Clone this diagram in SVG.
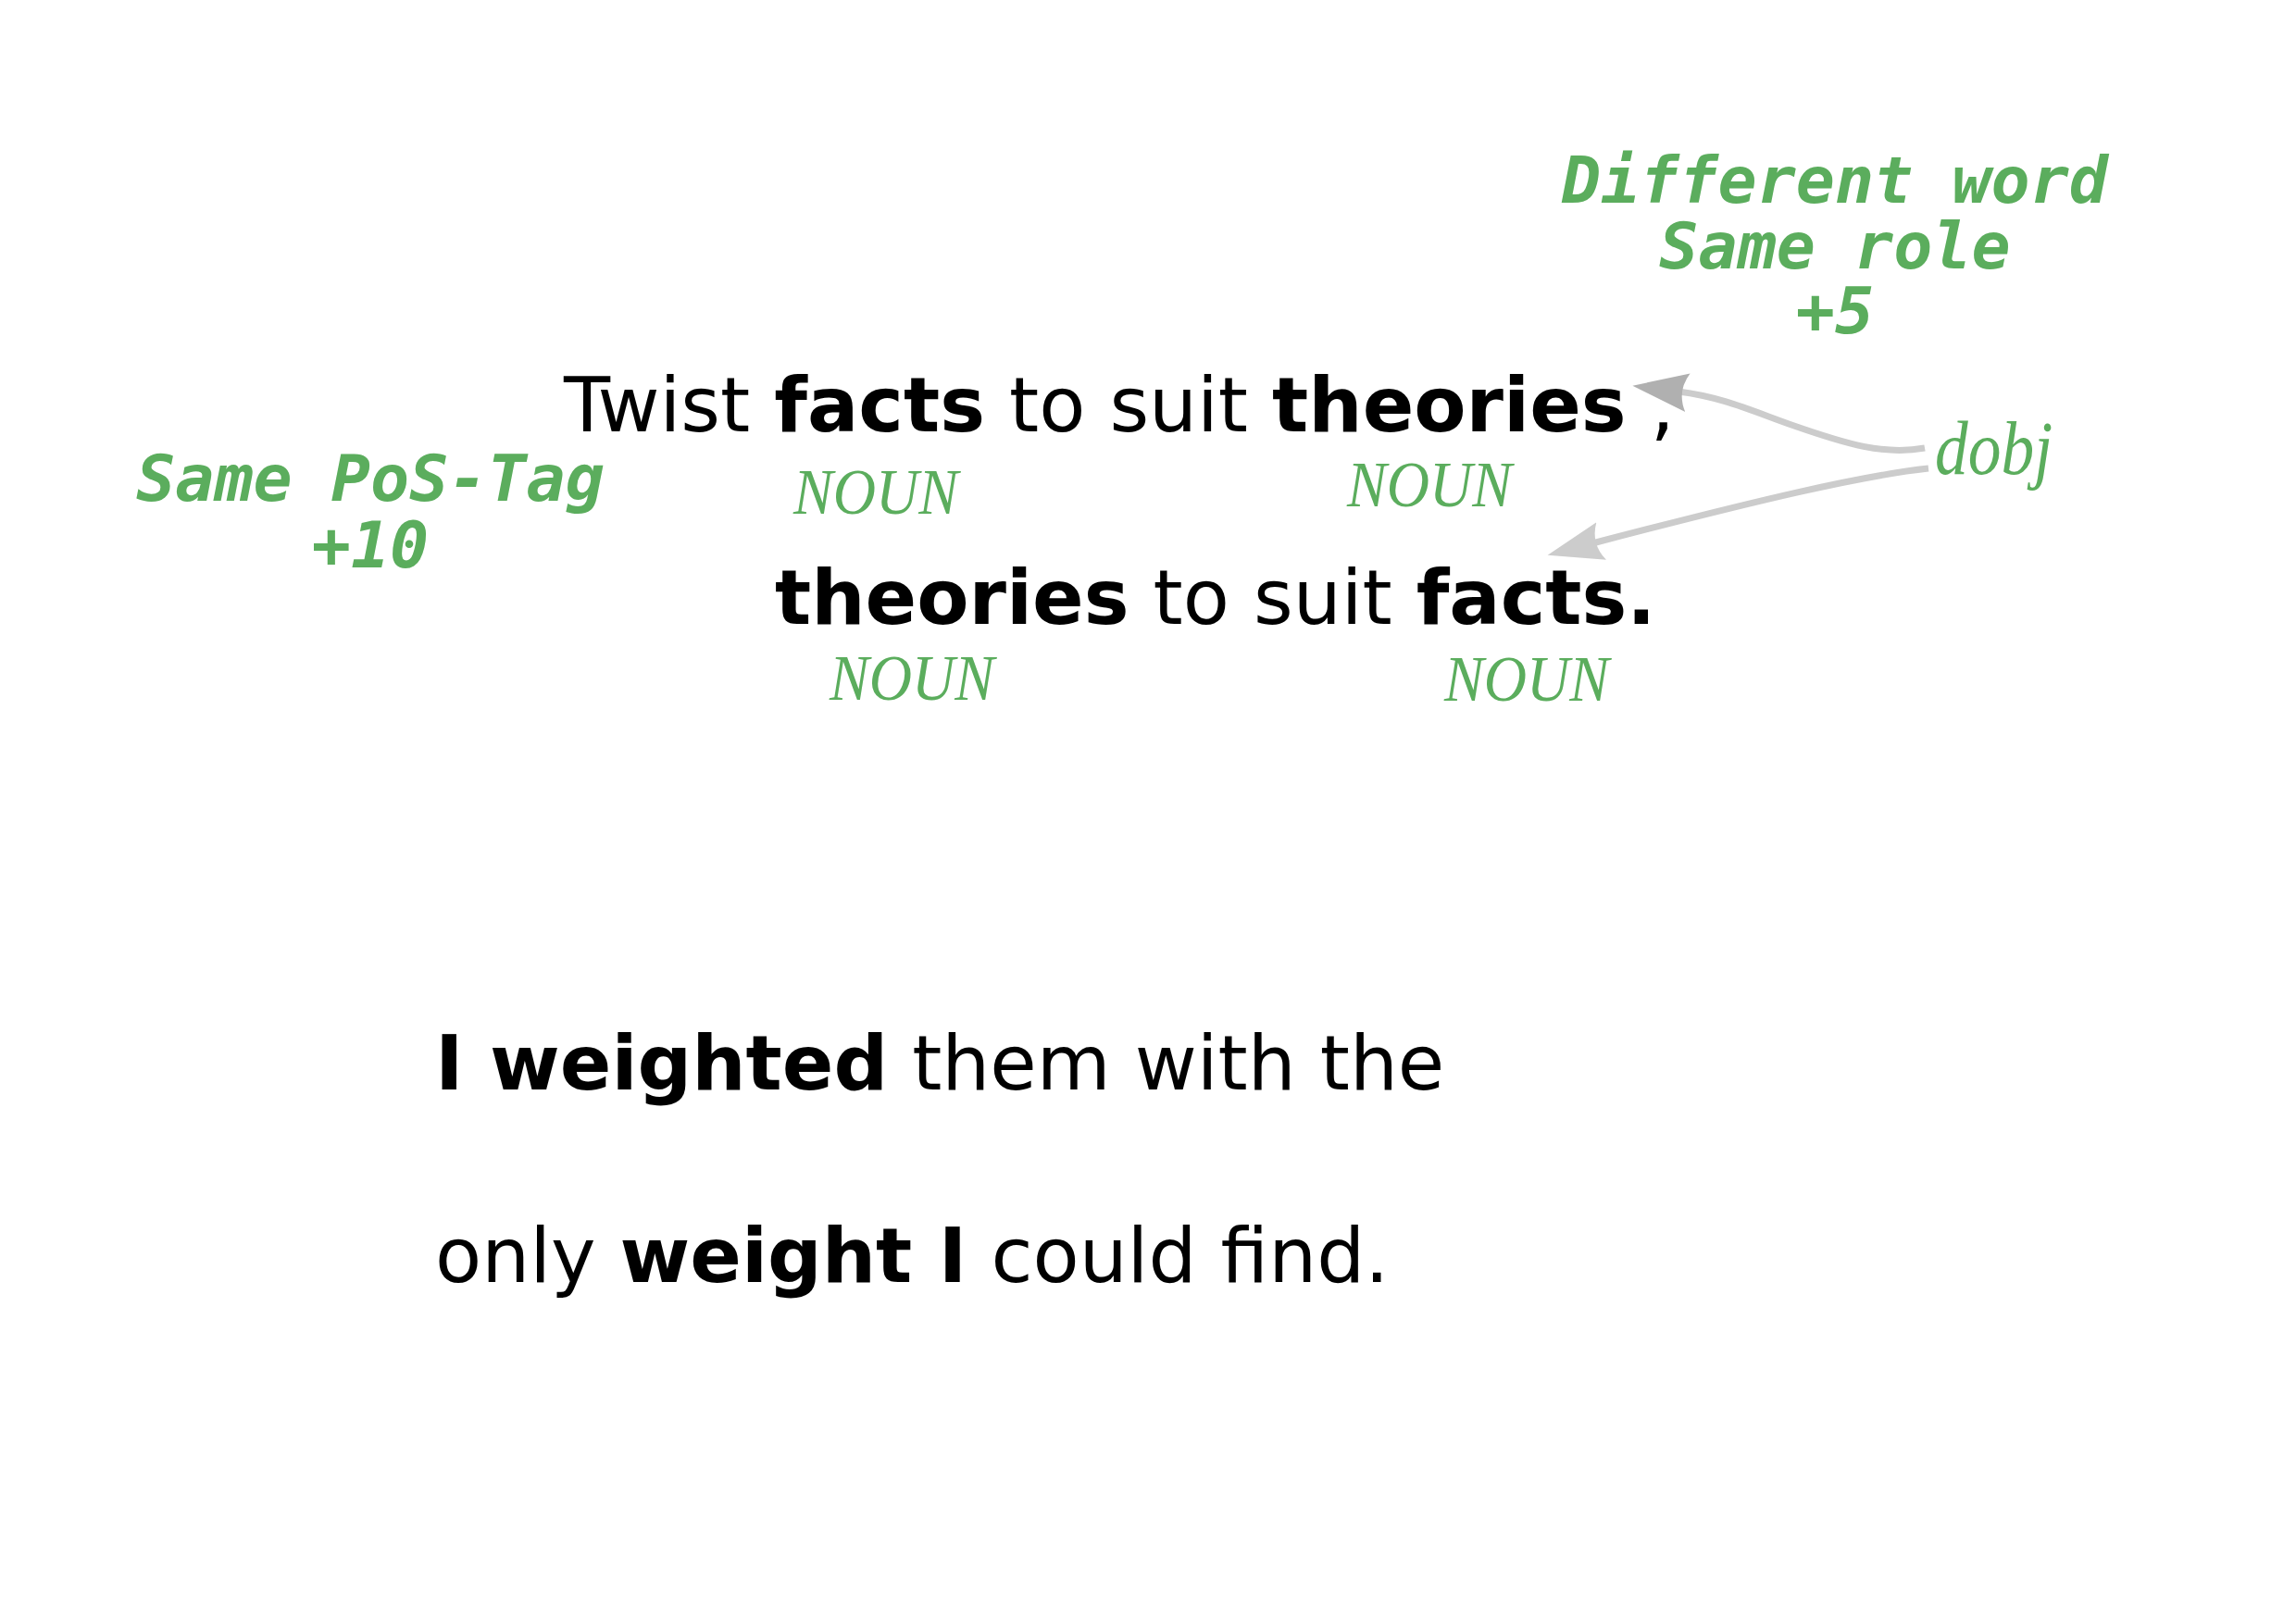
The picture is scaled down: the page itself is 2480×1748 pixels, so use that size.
<svg xmlns="http://www.w3.org/2000/svg" width="2480" height="1748" viewBox="0 0 2480 1748">
<style>
.main{font-family:"DejaVu Sans",sans-serif;font-size:82px;fill:#000}
.b{font-weight:bold}
.note{font-family:"DejaVu Sans Mono",monospace;font-size:70px;font-weight:bold;font-style:oblique;fill:#5bad5d;text-anchor:middle}
.tag{font-family:"Liberation Serif",serif;font-style:italic;font-size:70px;fill:#5bad5d;text-anchor:middle}
.edge{fill:none;stroke:#cccccc;stroke-width:7}
</style>
<defs>
<marker id="headDark" markerUnits="userSpaceOnUse" markerWidth="80" markerHeight="60" refX="10" refY="30" orient="auto" viewBox="0 0 80 60">
<path d="M60,30 L0,9 Q12,30 0,51 Z" fill="#b0b0b0"/>
</marker>
<marker id="headLight" markerUnits="userSpaceOnUse" markerWidth="80" markerHeight="60" refX="10" refY="30" orient="auto" viewBox="0 0 80 60">
<path d="M60,30 L0,9 Q12,30 0,51 Z" fill="#cccccc"/>
</marker>
</defs>
<rect width="2480" height="1748" fill="#fff"/>
<g id="note-role">
<text class="note" x="1982" y="219">Different word</text>
<text class="note" x="1982" y="290">Same role</text>
<text class="note" x="1982" y="360">+5</text>
</g>
<g id="note-pos">
<text class="note" x="400" y="541">Same PoS-Tag</text>
<text class="note" x="400" y="613">+10</text>
</g>
<g id="sentence1">
<text class="main" x="609" y="466">Twist <tspan class="b">facts</tspan> to suit <tspan class="b">theories</tspan> ,</text>
<text class="tag" x="946" y="555" textLength="178" lengthAdjust="spacingAndGlyphs">NOUN</text>
<text class="tag" x="1544" y="547" textLength="178" lengthAdjust="spacingAndGlyphs">NOUN</text>
</g>
<g id="sentence2">
<text class="main" x="837" y="674"><tspan class="b">theories</tspan> to suit <tspan class="b">facts.</tspan></text>
<text class="tag" x="985" y="756" textLength="178" lengthAdjust="spacingAndGlyphs">NOUN</text>
<text class="tag" x="1649" y="757" textLength="178" lengthAdjust="spacingAndGlyphs">NOUN</text>
</g>
<g id="dobj">
<text x="2090" y="512" textLength="127" lengthAdjust="spacingAndGlyphs" style="font-family:'Liberation Serif',serif;font-style:italic;font-size:82px;fill:#5bad5d">dobj</text>
</g>
<g id="sentence3">
<text class="main" x="470" y="1177"><tspan class="b">I weighted</tspan> them with the</text>
<text class="main" x="470" y="1385">only <tspan class="b">weight I</tspan> could find.</text>
</g>
<g id="connectors">
<path class="edge" d="M2079,484 C2035,492 1995,480 1935,459 C1890,443 1860,429 1813,423" marker-end="url(#headDark)"/>
<path class="edge" d="M2083,506 C2010,514 1900,540 1720,587" marker-end="url(#headLight)"/>
</g>
</svg>
